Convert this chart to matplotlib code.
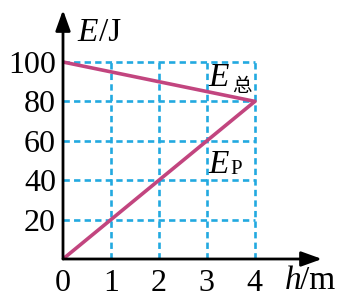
import matplotlib.pyplot as plt

# data
h = [0, 4]
e_total = [100, 80]
e_p = [0, 80]
x_ticks = [0, 1, 2, 3, 4]
y_ticks = [20, 40, 60, 80, 100]

line_color = '#c2457f'
grid_color = '#22a9e0'
serif = 'Liberation Serif'

fig = plt.figure(figsize=(3.54, 3.05), dpi=100)
ax = fig.add_axes([63 / 354, 46 / 305, 259 / 354, 249 / 305])
ax.set_xlim(0, 5.4)
ax.set_ylim(0, 126.4)
for s in ax.spines.values():
    s.set_visible(False)

# dashed grid
for x in x_ticks[1:]:
    ax.plot([x, x], [0, 100], color=grid_color, lw=1.9, ls=(0, (2.4, 1.6)), zorder=1)
for y in y_ticks:
    ax.plot([0, 4], [y, y], color=grid_color, lw=1.9, ls=(0, (2.4, 1.6)), zorder=1)

ax.plot(h, e_total, color=line_color, lw=2.6, solid_capstyle='round', zorder=3)
ax.plot(h, e_p, color=line_color, lw=2.6, solid_capstyle='round', zorder=3)

# axes with arrows
arrow = dict(arrowstyle='-|>,head_length=1.25,head_width=0.45', color='black', lw=2.0,
             shrinkA=0, shrinkB=0)
ax.annotate('', xy=(5.4, 0), xytext=(0, 0), arrowprops=arrow, annotation_clip=False)
ax.annotate('', xy=(0, 126.4), xytext=(0, 0), arrowprops=arrow, annotation_clip=False)

ax.set_xticks(x_ticks)
ax.set_xticklabels([str(v) for v in x_ticks])
ax.set_yticks(y_ticks)
ax.set_yticklabels([str(v) for v in y_ticks])
ax.tick_params(axis='x', length=0, labelsize=23, pad=7)
ax.tick_params(axis='y', length=0, labelsize=23, pad=5)
for lab in ax.get_xticklabels() + ax.get_yticklabels():
    lab.set_fontfamily(serif)

# axis labels
ax.text(0.29, 115, 'E', fontsize=24, family=serif, style='italic', va='center', ha='left')
ax.text(0.76, 115, '/J', fontsize=24, family=serif, va='center', ha='left')
ax.text(4.63, -11, 'h', fontsize=24, family=serif, style='italic', va='center', ha='left')
ax.text(4.95, -11, '/m', fontsize=24, family=serif, va='center', ha='left')

# line labels
ax.text(3.03, 92, 'E', fontsize=24, family=serif, style='italic', va='center', ha='left')
ax.text(3.52, 87.5, '总', fontsize=14, family='Noto Sans CJK SC', va='center', ha='left')
ax.text(3.03, 48, 'E', fontsize=24, family=serif, style='italic', va='center', ha='left')
ax.text(3.5, 45.5, 'P', fontsize=15, family=serif, va='center', ha='left')

fig.savefig('out.png', dpi=100)
